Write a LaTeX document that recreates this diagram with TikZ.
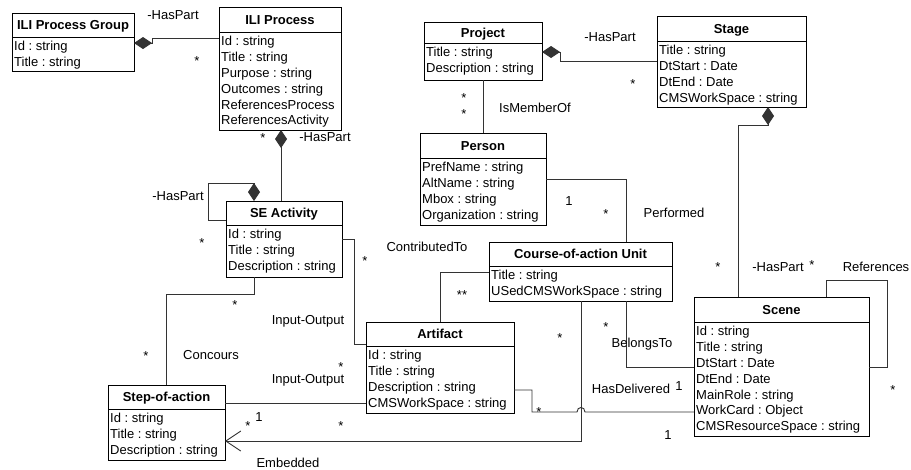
\documentclass[tikz,border=0pt]{standalone}
\usepackage{fontspec}
\setmainfont{Liberation Sans}
\usetikzlibrary{arrows.meta}
\frenchspacing
\newcommand{\dfont}{\fontsize{13}{15.9}\selectfont}
\tikzset{
  clsbox/.style={draw=black, line width=1pt, fill=white, inner sep=0pt, outer sep=0pt},
  clsline/.style={draw=black, line width=1pt},
  clstitle/.style={font=\dfont\bfseries, inner sep=0pt},
  clsattr/.style={font=\dfont, inner sep=0pt},
  lbl/.style={font=\dfont, inner sep=0pt},
  conn/.style={draw=black!80, line width=0.9pt},
  comp/.style={conn, -{Diamond[length=18pt,width=12pt]}},
  nav/.style={conn, -{Straight Barb[length=15pt,width=20pt]}},
}
% #1 name, #2 x1, #3 y1, #4 x2, #5 y2, #6 header line y, #7 title, #8 attributes
\newcommand{\umlclass}[8]{%
  \node[clsbox, minimum width={#4pt-#2pt}, minimum height={#5pt-#3pt}, anchor=north west] (#1) at (#2,#3) {};
  \draw[clsline] (#1.west |- 0,#6) -- (#1.east |- 0,#6);
  \node[clstitle, anchor=base] (#1-t) at ({(#2+#4)/2},{(#3+#6)/2+4.7}) {#7};
  \foreach \a [count=\i] in {#8} {\node[clsattr, anchor=base west] (#1-\i) at (#2+2,#6+13.4+15.9*\i-15.9) {\frenchspacing\a};}
}
\begin{document}
\begin{tikzpicture}[x=1pt,y=-1pt]
\useasboundingbox[fill=white] (0,0) rectangle (911,469);

\umlclass{ilpg}{12}{13}{134}{71}{37}{ILI Process Group}{Id : string,Title : string}
\umlclass{ilip}{219}{7}{341}{130}{32}{ILI Process}{Id : string,Title : string,Purpose : string,Outcomes : string,ReferencesProcess,ReferencesActivity}
\umlclass{seact}{226}{201}{342}{277}{225}{SE Activity}{Id : string,Title : string,Description : string}
\umlclass{step}{108}{385}{225}{460}{409}{Step-of-action}{Id : string,Title : string,Description : string}
\umlclass{art}{366}{322}{514}{413}{346}{Artifact}{Id : string,Title : string,Description : string,CMSWorkSpace : string}
\umlclass{coa}{489}{242}{672}{301}{266}{Course-of-action Unit}{Title : string,USedCMSWorkSpace : string}
\umlclass{person}{420}{133}{546}{225}{158}{Person}{PrefName : string,AltName : string,Mbox : string,Organization : string}
\umlclass{project}{424}{22}{542}{80}{43}{Project}{Title : string,Description : string}
\umlclass{stage}{657}{16}{806}{107}{41}{Stage}{Title : string,DtStart : Date,DtEnd : Date,CMSWorkSpace : string}
\umlclass{scene}{694}{297}{869}{436}{322}{Scene}{Id : string,Title : string,DtStart : Date,DtEnd : Date,MainRole : string,WorkCard : Object,CMSResourceSpace : string}

% connectors
\draw[comp] (ilip.west |- 0,38) -- (152,38) -- (152,43) -- (ilpg.east |- 0,43);
\draw[comp] (seact.north -| 281,0) -- (ilip.south -| 281,0);
\draw[comp] (seact.west |- 0,220) -- (208,220) -- (208,183) -- (254,183) -- (seact.north -| 254,0);
\draw[conn] (seact.south -| 254,0) -- (254,294) -- (166,294) -- (step.north -| 166,0);
\draw[conn] (seact.east |- 0,239) -- (354,239) -- (354,344) -- (art.west |- 0,344);
\draw[conn] (step.east |- 0,403) -- (art.west |- 0,403);
\draw[nav] (coa.south -| 581,0) -- (581,441) -- (step.east |- 0,441);
\draw[conn] (art.east |- 0,390) -- (532,390) -- (532,412) -- (577,412)
  .. controls (577,406) and (585,406) .. (585,412) -- (scene.west |- 0,412);
\draw[conn] (coa.west |- 0,272) -- (440,272) -- (art.north -| 440,0);
\draw[conn] (person.east |- 0,179) -- (626,179) -- (coa.north -| 626,0);
\draw[conn] (project.south -| 483,0) -- (person.north -| 483,0);
\draw[comp] (stage.west |- 0,61) -- (560,61) -- (560,52) -- (project.east |- 0,52);
\draw[comp] (scene.north -| 738,0) -- (738,125) -- (768,125) -- (stage.south -| 768,0);
\draw[conn] (scene.north -| 826,0) -- (826,280) -- (887,280) -- (887,367) -- (scene.east |- 0,367);
\draw[conn] (coa.south -| 626,0) -- (626,367) -- (scene.west |- 0,367);

% labels
\node[lbl, anchor=base] (l1) at (173,15+4.7) {-HasPart};
\node[lbl, anchor=base] (l2) at (325,137+4.7) {-HasPart};
\node[lbl, anchor=base] (l3) at (178,196+4.7) {-HasPart};
\node[lbl, anchor=base] (l4) at (308,320+4.7) {Input-Output};
\node[lbl, anchor=base] (l5) at (211,355+4.7) {Concours};
\node[lbl, anchor=base] (l6) at (308,379+4.7) {Input-Output};
\node[lbl, anchor=base] (l7) at (259,417+4.7) {1};
\node[lbl, anchor=base] (l8) at (288,463+4.7) {Embedded};
\node[lbl, anchor=base] (l9) at (427,247+4.7) {ContributedTo};
\node[lbl, anchor=base] (l10) at (535,108+4.7) {IsMemberOf};
\node[lbl, anchor=base] (l11) at (610,37+4.7) {-HasPart};
\node[lbl, anchor=base] (l12) at (569,201+4.7) {1};
\node[lbl, anchor=base] (l13) at (674,213+4.7) {Performed};
\node[lbl, anchor=base] (l14) at (778,267+4.7) {-HasPart};
\node[lbl, anchor=base] (l15) at (876,267+4.7) {References};
\node[lbl, anchor=base] (l16) at (642,343+4.7) {BelongsTo};
\node[lbl, anchor=base] (l17) at (631,389+4.7) {HasDelivered};
\node[lbl, anchor=base] (l18) at (679,386+4.7) {1};
\node[lbl, anchor=base] (l19) at (668,435+4.7) {1};
% multiplicity stars
\foreach \x/\y [count=\k] in {197/58,263/135,202/240,235/302,146/353,341/364,248/423,341/423,365/258,464/95,464/111,633/81,606/211,718/264,812/262,893/387,560/335,606/324,539/409}
  {\node[lbl, anchor=base] (s\k) at (\x,\y+7.5) {*};}
\node[lbl, anchor=base] (s20) at (462,292+7.5) {**};
\end{tikzpicture}
\end{document}
